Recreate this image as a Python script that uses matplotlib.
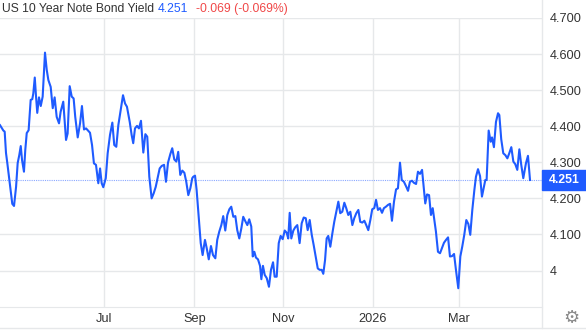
import matplotlib
matplotlib.use("Agg")
import matplotlib.pyplot as plt
from matplotlib.lines import Line2D
import pandas as pd

plt.rcParams['font.family'] = ['Liberation Sans', 'DejaVu Sans']

# US 10Y yield (days since 2025-04-21, yield in %)
start = pd.Timestamp('2025-04-21')
days = [
    0.0, 1.2, 2.3, 3.2, 4.1, 5.0, 6.4, 7.5, 8.4, 9.6, 11.0, 12.1, 13.2, 14.2, 15.1, 16.4,
    17.3, 18.3, 19.6, 21.0, 22.1, 22.8, 23.8, 24.6, 25.5, 26.7, 27.9, 29.2, 30.8, 32.0,
    33.1, 34.7, 36.1, 37.4, 38.8, 40.4, 41.5, 43.3, 45.2, 46.3, 47.7, 49.1, 50.4, 51.5,
    53.2, 54.8, 56.1, 57.5, 58.9, 60.2, 61.6, 63.0, 64.3, 65.7, 67.3,
    68.5, 69.6, 70.7, 72.4, 73.7, 75.3, 76.9, 78.2, 79.6, 81.0, 82.3, 84.2, 85.6, 86.9,
    88.8, 90.1, 91.2, 92.4, 93.8, 95.1, 96.5, 98.1, 99.5, 100.8, 102.2, 103.8, 105.2,
    106.6, 107.9, 109.3, 110.7, 112.3, 113.6, 115.0, 116.6, 117.9, 119.3, 120.7, 122.0,
    123.4, 124.8, 126.2, 127.5, 128.9, 130.3, 131.6,
    132.3, 133.5, 134.6, 136.0, 137.4, 138.7, 140.3, 141.5, 142.9, 144.4, 145.8, 147.4,
    148.7, 150.1, 151.5, 152.8, 154.2, 155.6, 157.0, 158.3, 159.7, 161.1, 162.4, 163.8,
    165.2, 166.5, 167.9, 169.3, 170.6, 172.0, 173.0, 174.1, 175.2, 176.6, 178.0, 178.9,
    180.0, 181.2, 182.6, 184.1, 185.5, 186.9, 188.0, 189.4, 190.8, 192.1, 193.5, 194.9,
    196.2, 197.3, 198.3, 199.4, 200.8, 202.1, 203.5, 205.1, 206.5, 207.9, 209.3, 210.6,
    212.0, 213.4, 214.7, 216.1, 217.5, 218.8, 220.2, 221.3, 222.5, 223.6, 224.7, 226.1,
    227.5, 228.8, 230.2, 231.6, 232.9, 234.3, 235.7, 237.0, 238.4, 239.8, 241.2, 242.5,
    243.9, 245.3, 246.6, 248.0, 249.4, 250.7, 252.1, 253.5, 254.8, 256.2, 257.4, 258.7,
    260.1, 261.5, 262.8, 264.2, 265.6, 267.0, 268.3, 269.7, 271.1, 272.4, 273.8, 275.0,
    276.5, 277.9, 279.3, 280.6, 282.0, 283.4, 284.8, 286.1, 287.5, 288.9, 290.2, 291.1,
    292.3, 293.7, 295.0, 296.2, 297.3, 298.4, 299.8, 301.2, 302.5, 303.9, 305.3, 306.7,
    308.0, 309.4, 310.8, 312.1, 313.7, 315.1, 316.4, 317.8, 319.2, 320.6, 321.9, 323.3,
    324.7, 325.8, 327.2, 328.6, 329.9, 330.8, 332.2, 333.1, 334.5, 335.9, 336.8, 338.1,
    339.5, 340.9, 341.8, 343.1, 344.5, 345.9, 347.3, 348.6, 350.0, 351.4, 352.7, 354.1,
    355.5, 356.8, 358.2, 360.0, 361.4, 362.8,
]
yields = [
    4.403, 4.395, 4.388, 4.385, 4.326, 4.298, 4.251, 4.215, 4.185, 4.179, 4.232, 4.298,
    4.320, 4.345, 4.306, 4.274, 4.334, 4.381, 4.389, 4.473, 4.475, 4.491, 4.535, 4.486,
    4.437, 4.480, 4.456, 4.482, 4.604, 4.556, 4.528, 4.509, 4.450, 4.480, 4.426, 4.408,
    4.440, 4.468, 4.362, 4.380, 4.511, 4.482, 4.477, 4.426, 4.369, 4.408, 4.456, 4.391,
    4.394, 4.388, 4.382, 4.348, 4.297, 4.293, 4.242,
    4.283, 4.242, 4.231, 4.256, 4.325, 4.376, 4.410, 4.348, 4.343, 4.403, 4.436, 4.486,
    4.463, 4.454, 4.412, 4.376, 4.353, 4.394, 4.401, 4.394, 4.415, 4.327, 4.378, 4.371,
    4.260, 4.200, 4.214, 4.232, 4.256, 4.283, 4.290, 4.293, 4.246, 4.299, 4.323, 4.339,
    4.308, 4.302, 4.329, 4.265, 4.277, 4.271, 4.246, 4.209, 4.228, 4.256,
    4.260, 4.263, 4.223, 4.149, 4.076, 4.043, 4.085, 4.062, 4.031, 4.068, 4.043, 4.034,
    4.085, 4.108, 4.126, 4.151, 4.111, 4.154, 4.170, 4.177, 4.149, 4.151, 4.112, 4.089,
    4.117, 4.149, 4.137, 4.126, 4.142, 4.122, 4.039, 4.052, 4.036, 4.031, 4.013, 3.976,
    4.013, 3.988, 3.979, 3.955, 4.002, 4.023, 3.983, 3.983, 4.076, 4.096, 4.087, 4.111,
    4.105, 4.089, 4.160, 4.089, 4.111, 4.120, 4.126, 4.076, 4.131, 4.147, 4.145, 4.112,
    4.140, 4.099, 4.071, 4.039, 4.006, 4.002, 4.002, 3.991, 4.029, 4.089, 4.096, 4.066,
    4.103, 4.135, 4.163, 4.191, 4.159, 4.163, 4.188, 4.173, 4.154, 4.163, 4.126, 4.145,
    4.159, 4.168, 4.135, 4.133, 4.138, 4.126, 4.112, 4.140, 4.170, 4.173, 4.196, 4.168,
    4.173, 4.160, 4.173, 4.177, 4.182, 4.185, 4.138, 4.191, 4.225, 4.228, 4.299, 4.251,
    4.246, 4.234, 4.221, 4.246, 4.249, 4.243, 4.240, 4.274, 4.268, 4.279, 4.225, 4.186,
    4.211, 4.209, 4.154, 4.173, 4.140, 4.108, 4.052, 4.048, 4.062, 4.077, 4.085, 4.092,
    4.039, 4.040, 4.046, 4.002, 3.951, 4.039, 4.066, 4.099, 4.140, 4.129, 4.099, 4.168,
    4.223, 4.260, 4.281, 4.262, 4.205, 4.223, 4.251, 4.251, 4.388, 4.357, 4.369, 4.342,
    4.412, 4.436, 4.431, 4.364, 4.325, 4.320, 4.311, 4.325, 4.342, 4.302, 4.295, 4.279,
    4.336, 4.293, 4.256, 4.297, 4.318, 4.251,
]

last = 4.251
change = '-0.069 (-0.069%)'
x_ticks = ['2025-07-01', '2025-09-01', '2025-11-01', '2026-01-01', '2026-03-01']
x_labels = ['Jul', 'Sep', 'Nov', '2026', 'Mar']
y_ticks = [4.0, 4.1, 4.2, 4.3, 4.4, 4.5, 4.6, 4.7]

blue = '#1f5bff'
grid = '#e6e8ea'

dates = start + pd.to_timedelta(days, unit='D')

fig = plt.figure(figsize=(5.86, 3.30), dpi=100)
ax = fig.add_axes([0, 0.0697, 0.9244, 0.8758])

ax.plot(dates, yields, color=blue, lw=1.5, solid_joinstyle='round', zorder=3)
ax.axhline(last, color='#8aa8ff', lw=0.8, ls=(0, (1, 1)), zorder=2)

ax.set_xlim(start, start + pd.Timedelta(days=370.8))
ax.set_ylim(3.899, 4.700)

ax.set_xticks(pd.to_datetime(x_ticks))
ax.set_xticklabels(x_labels)
ax.set_yticks(y_ticks)
ax.set_yticklabels(['4' if v == 4.0 else f'{v:.3f}' for v in y_ticks])
ax.yaxis.tick_right()
ax.tick_params(axis='y', length=0, pad=6, labelsize=9.2, labelcolor='#333333')
ax.tick_params(axis='x', length=0, pad=4, labelsize=9.2, labelcolor='#333333')
for lab in ax.get_yticklabels():
    lab.set_horizontalalignment('left')

ax.grid(True, color=grid, lw=1)
for s in ax.spines.values():
    s.set_visible(False)
ax.spines['bottom'].set_visible(True)
ax.spines['bottom'].set_color(grid)

# frame lines outside the plot area
fig.add_artist(Line2D([0.9244, 0.9244], [0.006, 1.0], color=grid, lw=1))
fig.add_artist(Line2D([0, 1], [0.006, 0.006], color=grid, lw=1))

# last value tag, placed at the last value on the y scale
tag_y = ax.transData.transform((0, last))[1] / fig.bbox.height
tag_h = 20.7 / 330
fig.add_artist(plt.Rectangle((0.9244, tag_y - tag_h / 2), 1 - 0.9244, tag_h,
                             transform=fig.transFigure, color=blue, zorder=5))
fig.text(564 / 586, tag_y, f'{last:.3f}', color='white', fontsize=8.8, fontweight='bold',
         ha='center', va='center', zorder=6)

# header
fig.text(0.003, 0.972, 'US 10 Year Note Bond Yield', color='#333333', fontsize=8.7, va='center')
fig.text(157.5 / 586, 0.972, f'{last:.3f}', color=blue, fontsize=8.7, va='center')
fig.text(196 / 586, 0.972, change, color='#f04848', fontsize=8.7, va='center')

# settings gear
fig.text(571 / 586, 1 - 318 / 330, '\u2699', family='DejaVu Sans', color='#8a8a8a',
         fontsize=13, ha='center', va='center')

fig.savefig('out.png', dpi=100, facecolor='white')
